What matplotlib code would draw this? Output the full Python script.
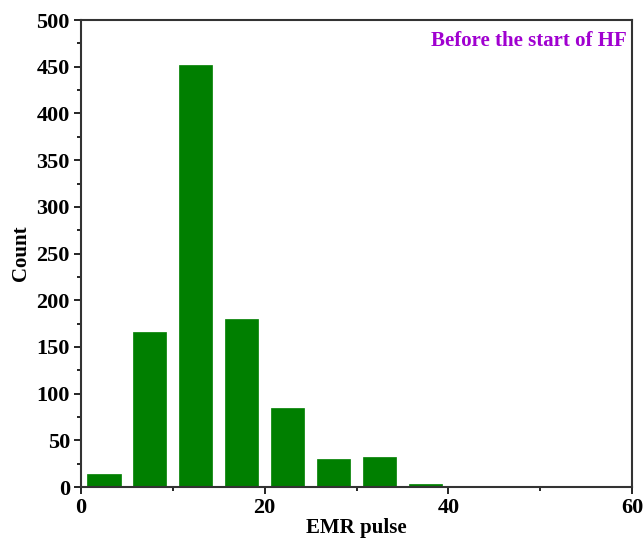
import matplotlib.pyplot as plt
from matplotlib.ticker import MultipleLocator

# Histogram of EMR pulse counts before the start of HF
bin_centers = [2.5, 7.5, 12.5, 17.5, 22.5, 27.5, 32.5, 37.5]
counts = [14, 166, 452, 180, 85, 30, 32, 3]

plt.rcParams['font.family'] = ['Liberation Serif', 'DejaVu Serif']
plt.rcParams['font.weight'] = 'bold'

fig = plt.figure(figsize=(6.43, 5.43), dpi=100)
ax = fig.add_axes([0.126, 0.103, 0.857, 0.860])

ax.bar(bin_centers, counts, width=3.6, color='#007f00', edgecolor='#007f00', linewidth=0.5)

ax.set_xlim(0, 60)
ax.set_ylim(0, 500)
ax.xaxis.set_major_locator(MultipleLocator(20))
ax.xaxis.set_minor_locator(MultipleLocator(10))
ax.yaxis.set_major_locator(MultipleLocator(50))
ax.yaxis.set_minor_locator(MultipleLocator(25))
ax.tick_params(which='both', direction='out', top=False, right=False, labelsize=16, width=1.2)
ax.tick_params(which='major', length=5, pad=3)
ax.tick_params(which='minor', length=3)
for lab in ax.get_xticklabels() + ax.get_yticklabels():
    lab.set_fontweight('bold')

for sp in ax.spines.values():
    sp.set_linewidth(1.5)
    sp.set_color('#333333')

ax.set_xlabel('EMR pulse', fontsize=15, fontweight='bold', labelpad=0)
ax.set_ylabel('Count', fontsize=15, fontweight='bold', labelpad=4)

ax.text(0.99, 0.955, 'Before the start of HF', transform=ax.transAxes,
        ha='right', va='center', fontsize=15, fontweight='bold', color='#a000d0')

plt.savefig('out.png', dpi=100)
